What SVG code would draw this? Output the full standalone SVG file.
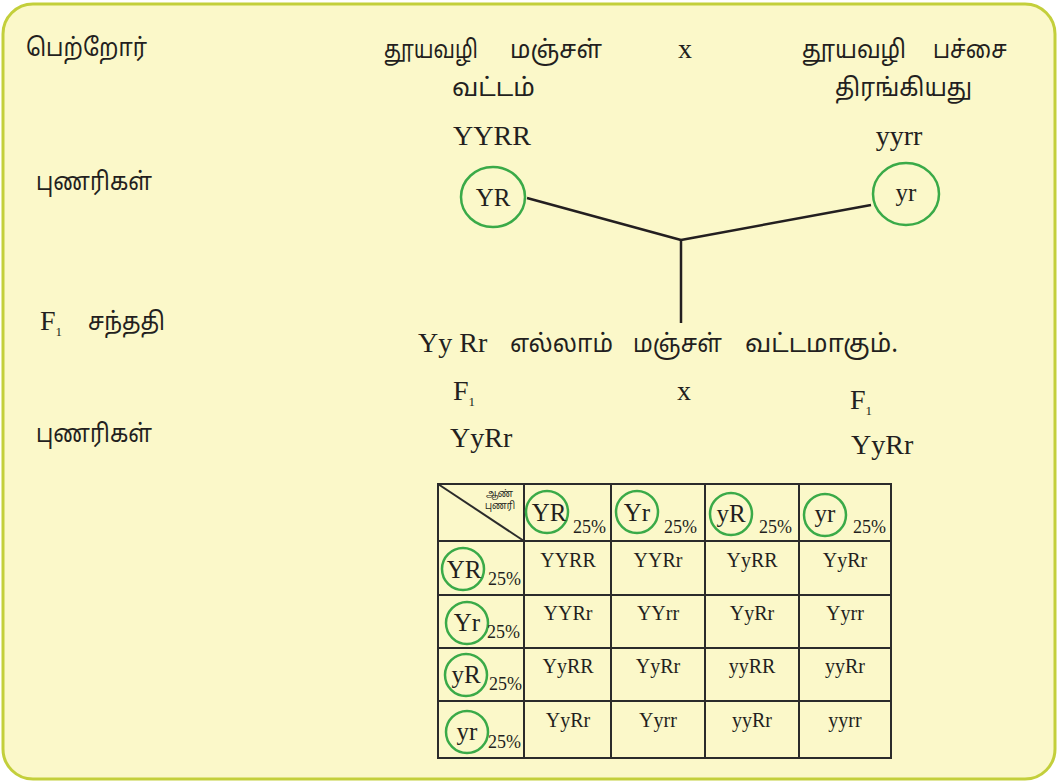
<svg xmlns="http://www.w3.org/2000/svg" width="1059" height="782" viewBox="0 0 1059 782">
<style>
.ta{font-family:"Noto Sans Tamil","Noto Sans","DejaVu Sans",sans-serif;font-size:25px;fill:#231f20}
.se{font-family:"Liberation Serif","Times New Roman",serif;font-size:28px;fill:#231f20}
.cell{font-family:"Liberation Serif","Times New Roman",serif;font-size:20px;fill:#231f20;text-anchor:middle}
.ct{font-family:"Liberation Serif","Times New Roman",serif;font-size:25px;fill:#231f20;text-anchor:middle}
.pc{font-family:"Liberation Serif","Times New Roman",serif;font-size:18px;fill:#231f20}
.gc{fill:none;stroke:#3aaa48;stroke-width:2.5}
.ln{stroke:#231f20;stroke-width:2.5;fill:none}
.tb{stroke:#2b2b2b;stroke-width:2;fill:none}
.mid{text-anchor:middle}
.sm{font-family:"Noto Sans Tamil","Noto Sans",sans-serif;font-size:10px;fill:#231f20}
</style>
<rect x="3" y="4" width="1052" height="775" rx="30" ry="30" fill="#fbf8c9" stroke="#c3cf3b" stroke-width="3"/>

<g id="labels">
<text class="ta" x="26" y="56" textLength="121" lengthAdjust="spacingAndGlyphs">பெற்றோர்</text>
<text class="ta" x="36" y="190" textLength="116" lengthAdjust="spacingAndGlyphs">புணரிகள்</text>
<text class="se" x="40" y="330">F<tspan font-size="13" dy="6">1</tspan></text>
<text class="ta" x="88" y="330" textLength="77" lengthAdjust="spacingAndGlyphs">சந்ததி</text>
<text class="ta" x="36" y="442" textLength="116" lengthAdjust="spacingAndGlyphs">புணரிகள்</text>
</g>

<g id="parent1">
<text class="ta" x="384" y="58" textLength="94" lengthAdjust="spacingAndGlyphs">தூயவழி</text>
<text class="ta" x="510" y="58" textLength="92" lengthAdjust="spacingAndGlyphs">மஞ்சள்</text>
<text class="ta" x="452" y="96" textLength="83" lengthAdjust="spacingAndGlyphs">வட்டம்</text>
<text class="se mid" x="492" y="145">YYRR</text>
</g>
<g id="cross1"><text class="se mid" x="685" y="58">x</text></g>
<g id="parent2">
<text class="ta" x="802" y="58" textLength="104" lengthAdjust="spacingAndGlyphs">தூயவழி</text>
<text class="ta" x="933" y="58" textLength="74" lengthAdjust="spacingAndGlyphs">பச்சை</text>
<text class="ta" x="835" y="96" textLength="137" lengthAdjust="spacingAndGlyphs">திரங்கியது</text>
<text class="se mid" x="899" y="145">yyrr</text>
</g>

<g id="gameteYR">
<ellipse class="gc" cx="493" cy="197" rx="32" ry="30"/>
<text class="ct" x="493" y="206">YR</text>
</g>
<g id="gameteyr">
<ellipse class="gc" cx="906" cy="194" rx="33" ry="31"/>
<text class="ct" x="906" y="201">yr</text>
</g>

<g id="connectors">
<line class="ln" x1="527" y1="198" x2="681" y2="240"/>
<line class="ln" x1="871" y1="205" x2="681" y2="240"/>
<line class="ln" x1="681" y1="240" x2="681" y2="323"/>
</g>

<g id="f1">
<text class="se" x="418" y="352">Yy Rr</text>
<text class="ta" x="510" y="352" textLength="103" lengthAdjust="spacingAndGlyphs">எல்லாம்</text>
<text class="ta" x="633" y="352" textLength="89" lengthAdjust="spacingAndGlyphs">மஞ்சள்</text>
<text class="ta" x="745" y="352" textLength="153" lengthAdjust="spacingAndGlyphs">வட்டமாகும்.</text>
</g>

<g id="f1cross">
<text class="se" x="453" y="400">F<tspan font-size="13" dy="6">1</tspan></text>
<text class="se mid" x="684" y="400">x</text>
<text class="se" x="850" y="409">F<tspan font-size="13" dy="6">1</tspan></text>
<text class="se" x="450" y="447">YyRr</text>
<text class="se" x="851" y="454">YyRr</text>
</g>

<g id="punnett">
<rect class="tb" x="438" y="484" width="453" height="274"/>
<line class="tb" x1="524" y1="484" x2="524" y2="758"/>
<line class="tb" x1="611" y1="484" x2="611" y2="758"/>
<line class="tb" x1="705" y1="484" x2="705" y2="758"/>
<line class="tb" x1="799" y1="484" x2="799" y2="758"/>
<line class="tb" x1="438" y1="541" x2="891" y2="541"/>
<line class="tb" x1="438" y1="595" x2="891" y2="595"/>
<line class="tb" x1="438" y1="648" x2="891" y2="648"/>
<line class="tb" x1="438" y1="701" x2="891" y2="701"/>
<line class="tb" x1="438" y1="484" x2="524" y2="541"/>
<text class="sm" x="486" y="497" textLength="27" lengthAdjust="spacingAndGlyphs">ஆண்</text>
<text class="sm" x="485" y="509" textLength="30" lengthAdjust="spacingAndGlyphs">புணரி</text>

<ellipse class="gc" cx="547" cy="512" rx="21" ry="21"/>
<text class="ct" x="549" y="521">YR</text>
<text class="pc" x="573" y="533">25%</text>
<ellipse class="gc" cx="637" cy="512" rx="21" ry="21"/>
<text class="ct" x="637" y="521">Yr</text>
<text class="pc" x="664" y="533">25%</text>
<ellipse class="gc" cx="731" cy="514" rx="21" ry="21"/>
<text class="ct" x="731" y="522">yR</text>
<text class="pc" x="759" y="533">25%</text>
<ellipse class="gc" cx="825" cy="515" rx="21" ry="21"/>
<text class="ct" x="825" y="522">yr</text>
<text class="pc" x="853" y="533">25%</text>

<ellipse class="gc" cx="463" cy="569" rx="21" ry="21"/>
<text class="ct" x="464" y="578">YR</text>
<text class="pc" x="488" y="585">25%</text>
<ellipse class="gc" cx="467" cy="623" rx="21" ry="21"/>
<text class="ct" x="467" y="631">Yr</text>
<text class="pc" x="487" y="638">25%</text>
<ellipse class="gc" cx="466" cy="675" rx="21" ry="21"/>
<text class="ct" x="466" y="683">yR</text>
<text class="pc" x="489" y="690">25%</text>
<ellipse class="gc" cx="467" cy="732" rx="21" ry="21"/>
<text class="ct" x="467" y="740">yr</text>
<text class="pc" x="488" y="748">25%</text>

<text class="cell" x="568" y="567">YYRR</text>
<text class="cell" x="658" y="567">YYRr</text>
<text class="cell" x="752" y="567">YyRR</text>
<text class="cell" x="845" y="567">YyRr</text>
<text class="cell" x="568" y="620">YYRr</text>
<text class="cell" x="658" y="620">YYrr</text>
<text class="cell" x="752" y="620">YyRr</text>
<text class="cell" x="845" y="620">Yyrr</text>
<text class="cell" x="568" y="673">YyRR</text>
<text class="cell" x="658" y="673">YyRr</text>
<text class="cell" x="752" y="673">yyRR</text>
<text class="cell" x="845" y="673">yyRr</text>
<text class="cell" x="568" y="727">YyRr</text>
<text class="cell" x="658" y="727">Yyrr</text>
<text class="cell" x="752" y="727">yyRr</text>
<text class="cell" x="845" y="727">yyrr</text>
</g>
</svg>
